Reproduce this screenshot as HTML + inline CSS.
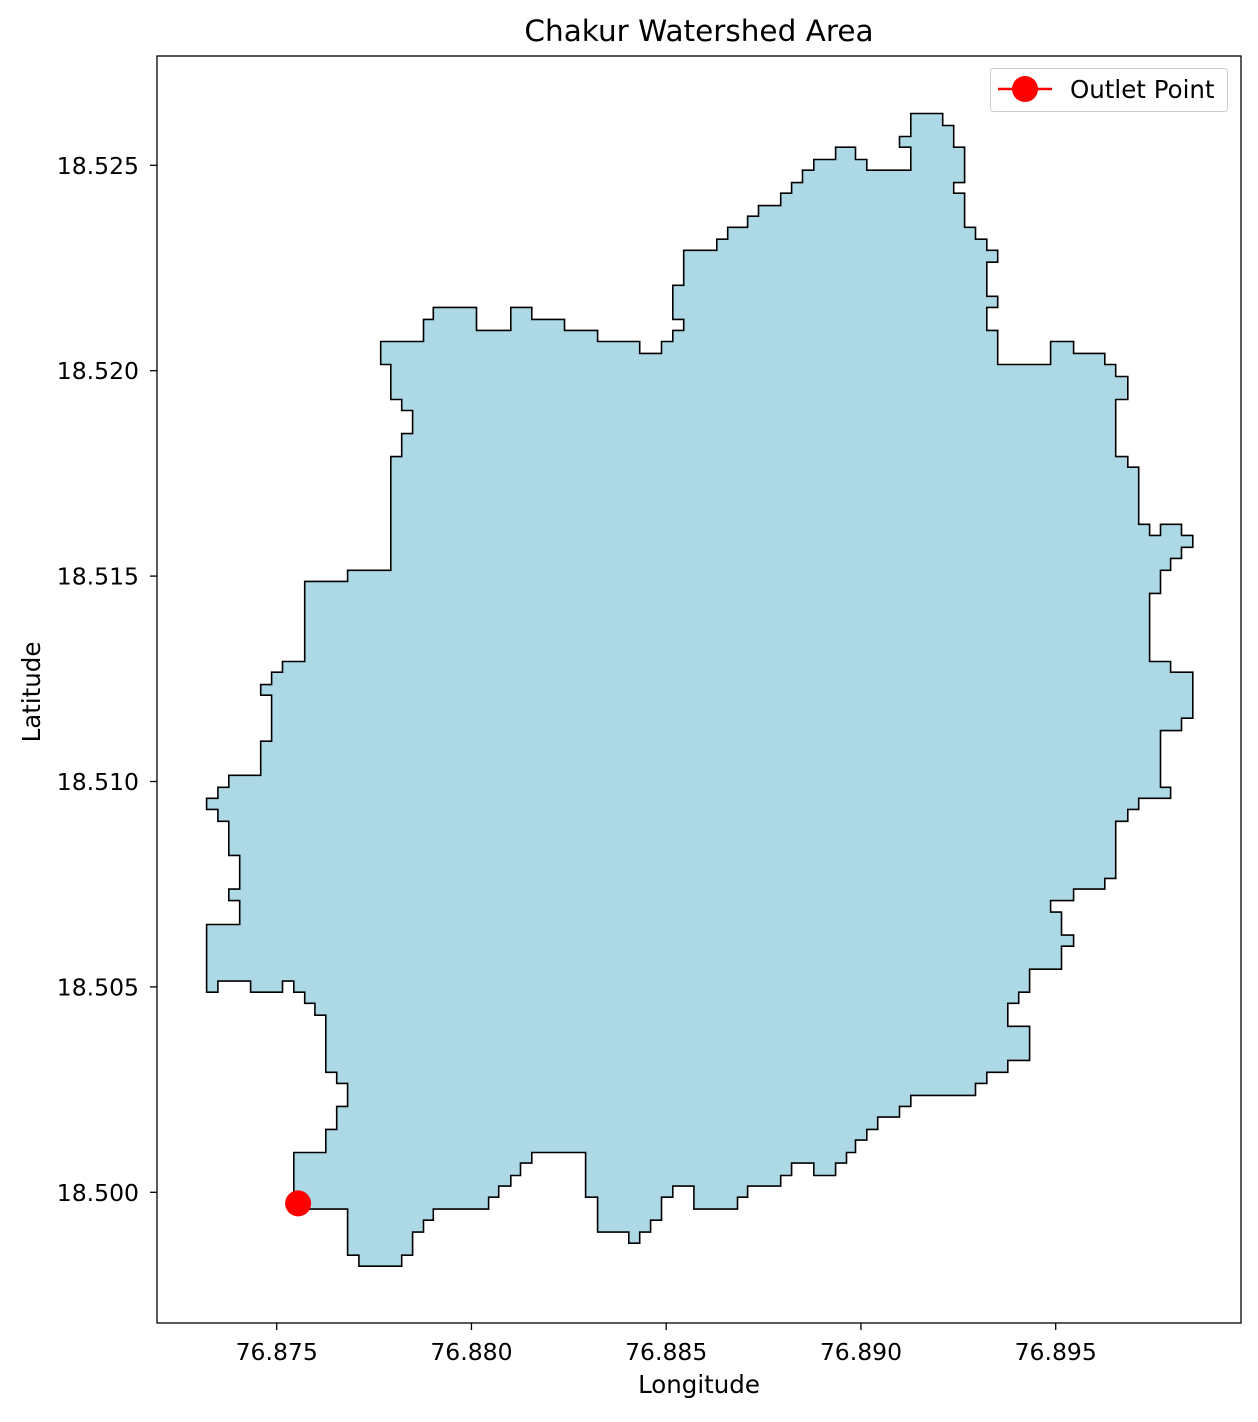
<!DOCTYPE html>
<html><head><meta charset="utf-8"><style>
html,body{margin:0;padding:0;background:#fff;}
svg text{font-family:"DejaVu Sans","Liberation Sans",sans-serif;fill:#000;}
</style></head><body>
<svg id="chart" width="1258" height="1417" xmlns="http://www.w3.org/2000/svg">
<rect width="1258" height="1417" fill="#fff"/>
<text x="699" y="41" font-size="29.5" text-anchor="middle">Chakur Watershed Area</text>
<g id="plot"></g>
<rect x="157" y="56" width="1084" height="1267" fill="none" stroke="#000" stroke-width="1.3"/>
<g id="xticks"></g>
<g id="yticks"></g>
<text x="699" y="1393" font-size="24.5" text-anchor="middle">Longitude</text>
<text transform="translate(40,692) rotate(-90)" font-size="24.5" text-anchor="middle">Latitude</text>
<g>
<rect x="990.5" y="68.5" width="237" height="43" rx="3" fill="#fff" fill-opacity="0.8" stroke="#ccc"/>
<line x1="998" y1="89" x2="1052" y2="89" stroke="#f00" stroke-width="2.5"/>
<circle cx="1025" cy="89" r="13" fill="#f00"/>
<text x="1070" y="98" font-size="24.5">Outlet Point</text>
</g>
</svg>
<script>
const boundaryLon=[76.87767,76.87877,76.87902,76.88013,76.88101,76.88155,76.88239,76.88324,76.88432,76.88488,76.88517,76.88545,76.88517,76.88545,76.88630,76.88658,76.88709,76.88737,76.88794,76.88822,76.88850,76.88879,76.88935,76.88986,76.89015,76.89128,76.89099,76.89128,76.89210,76.89238,76.89266,76.89238,76.89266,76.89294,76.89323,76.89351,76.89323,76.89351,76.89323,76.89351,76.89487,76.89546,76.89626,76.89654,76.89685,76.89654,76.89685,76.89713,76.89741,76.89769,76.89823,76.89852,76.89823,76.89795,76.89769,76.89741,76.89795,76.89852,76.89823,76.89769,76.89795,76.89713,76.89685,76.89654,76.89626,76.89546,76.89487,76.89515,76.89546,76.89515,76.89433,76.89405,76.89377,76.89433,76.89377,76.89323,76.89294,76.89128,76.89099,76.89043,76.89015,76.88986,76.88963,76.88935,76.88879,76.88822,76.88794,76.88709,76.88683,76.88571,76.88517,76.88488,76.88460,76.88432,76.88404,76.88324,76.88293,76.88155,76.88126,76.88101,76.88070,76.88044,76.87902,76.87877,76.87849,76.87821,76.87711,76.87682,76.87544,76.87626,76.87654,76.87682,76.87654,76.87626,76.87598,76.87572,76.87544,76.87515,76.87433,76.87349,76.87320,76.87405,76.87377,76.87405,76.87377,76.87349,76.87320,76.87349,76.87377,76.87459,76.87487,76.87459,76.87487,76.87515,76.87572,76.87682,76.87793,76.87821,76.87849,76.87821,76.87793,76.87767];
const boundaryLat=[18.52071,18.52125,18.52154,18.52098,18.52154,18.52125,18.52098,18.52071,18.52042,18.52071,18.52098,18.52125,18.52208,18.52293,18.52320,18.52349,18.52376,18.52402,18.52432,18.52458,18.52488,18.52514,18.52544,18.52514,18.52488,18.52544,18.52570,18.52626,18.52597,18.52544,18.52458,18.52432,18.52349,18.52320,18.52293,18.52264,18.52181,18.52154,18.52098,18.52015,18.52071,18.52042,18.52015,18.51986,18.51930,18.51791,18.51765,18.51626,18.51599,18.51626,18.51599,18.51570,18.51543,18.51514,18.51458,18.51292,18.51266,18.51154,18.51124,18.50986,18.50959,18.50932,18.50903,18.50764,18.50738,18.50710,18.50682,18.50626,18.50599,18.50543,18.50487,18.50460,18.50404,18.50321,18.50292,18.50265,18.50236,18.50209,18.50183,18.50153,18.50127,18.50097,18.50071,18.50041,18.50071,18.50041,18.50015,18.49988,18.49959,18.50015,18.49988,18.49932,18.49903,18.49876,18.49903,18.49988,18.50097,18.50071,18.50041,18.50015,18.49988,18.49959,18.49932,18.49903,18.49847,18.49820,18.49847,18.49959,18.50097,18.50153,18.50209,18.50265,18.50292,18.50431,18.50460,18.50487,18.50514,18.50487,18.50514,18.50487,18.50652,18.50710,18.50738,18.50820,18.50903,18.50932,18.50959,18.50986,18.51015,18.51098,18.51210,18.51236,18.51266,18.51292,18.51487,18.51514,18.51791,18.51847,18.51903,18.51930,18.52015,18.52071];
const outletLon=[76.87555];
const outletLat=[18.49973];
const xTickValues=[76.875,76.880,76.885,76.890,76.895];
const yTickValues=[18.500,18.505,18.510,18.515,18.520,18.525];
const xTickLabels=["76.875","76.880","76.885","76.890","76.895"];
const yTickLabels=["18.500","18.505","18.510","18.515","18.520","18.525"];

const NS="http://www.w3.org/2000/svg";
function xScale(lon){return 276.7+(lon-76.875)*38950;}
function yScale(lat){return 1192.3-(lat-18.5)*41080;}
function mk(tag,attrs,parent){const e=document.createElementNS(NS,tag);for(const k in attrs)e.setAttribute(k,attrs[k]);parent.appendChild(e);return e;}

const plot=document.getElementById('plot');
let d="M"+xScale(boundaryLon[0]).toFixed(1)+","+yScale(boundaryLat[0]).toFixed(1);
for(let i=1;i<boundaryLon.length;i++){
  d+=" H"+xScale(boundaryLon[i]).toFixed(1)+" V"+yScale(boundaryLat[i]).toFixed(1);
}
d+=" Z";
const poly=mk('path',{d:d,fill:'#add8e6',stroke:'#000','stroke-width':1.6},plot);



for(let i=0;i<outletLon.length;i++){
  const c=mk('circle',{cx:xScale(outletLon[i]),cy:yScale(outletLat[i]),r:13,fill:'#f00'},plot);
  
  
}

const xg=document.getElementById('xticks');
xTickValues.forEach((v,i)=>{
  const x=xScale(v);
  const t=mk('line',{x1:x,x2:x,y1:1323,y2:1330,stroke:'#000','stroke-width':1.3},xg);
  
  
  const l=mk('text',{x:x,y:1360,'font-size':23.5,'text-anchor':'middle'},xg);
  l.textContent=xTickLabels[i];
  
  
});
const yg=document.getElementById('yticks');
yTickValues.forEach((v,i)=>{
  const y=yScale(v);
  const t=mk('line',{x1:150,x2:157,y1:y,y2:y,stroke:'#000','stroke-width':1.3},yg);
  
  
  const l=mk('text',{x:139,y:y+8.5,'font-size':23.5,'text-anchor':'end'},yg);
  l.textContent=yTickLabels[i];
  
  
});
</script>
</body></html>
